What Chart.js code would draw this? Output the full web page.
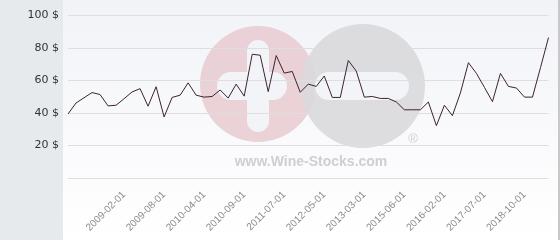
<!DOCTYPE html>
<html>
<head>
<meta charset="utf-8">
<script src="https://cdn.jsdelivr.net/npm/chart.js@4"></script>
<style>
  html, body { margin: 0; padding: 0; background: #fff; }
  #wrap { width: 560px; height: 240px; }
</style>
</head>
<body>
<div id="wrap"><canvas id="myChart" width="560" height="240"></canvas></div>
<script>
'use strict';
// prices, one per sale date
let prices = [39.4, 46.2, 49.4, 52.6, 51.4, 44.4, 44.8, 48.8, 53, 55,
  44.2, 56.2, 37.6, 49.6, 51, 58.6, 51, 49.8, 50.2, 54.2,
  49.2, 57.8, 50.4, 76.2, 75.6, 53.2, 75.4, 64.6, 65.6, 52.8,
  57.8, 56.4, 62.8, 49.6, 49.6, 72.4, 65.8, 49.8, 50.2, 49,
  49, 46.8, 42, 42, 42, 46.8, 32.2, 44.8, 38.4, 52.4,
  71, 64.4, 55.8, 47, 64.4, 56.4, 55.4, 49.8, 49.8, 68,
  86.5];
let tickLabels = ['2009-02-01', '2009-08-01', '2010-04-01', '2010-09-01', '2011-07-01',
  '2012-05-01', '2013-03-01', '2015-06-01', '2016-02-01', '2017-07-01', '2018-10-01'];
let firstTick = 7;
let tickStep = 5;
let yTicks = [0, 20, 40, 60, 80, 100];

// category for every point, the readable dates sit every 5th point
let categories = prices.map(function (p, i) {
  let k = (i - firstTick) / tickStep;
  return (k >= 0 && k === Math.floor(k) && k < tickLabels.length) ? tickLabels[k] : '';
});

let backdrop = {
  id: 'backdrop',
  beforeDraw: function (chart) {
    let ctx = chart.ctx;
    ctx.save();
    ctx.fillStyle = '#e7eaed';
    ctx.fillRect(0, 0, 63, chart.height);
    let g = ctx.createLinearGradient(0, 0, 0, chart.height);
    g.addColorStop(0, '#f2f3f7');
    g.addColorStop(1, '#ffffff');
    ctx.fillStyle = g;
    ctx.fillRect(63, 0, 495, chart.height);
    ctx.fillStyle = '#c8c8c8';
    ctx.fillRect(558, 0, 2, chart.height);

    // watermark
    ctx.globalAlpha = 0.9;
    ctx.fillStyle = '#e8cdd3';
    ctx.beginPath(); ctx.arc(258, 84, 58, 0, Math.PI * 2); ctx.fill();
    ctx.fillStyle = '#d9d9db';
    ctx.beginPath(); ctx.arc(363, 86, 62, 0, Math.PI * 2); ctx.fill();
    ctx.globalAlpha = 1;
    ctx.fillStyle = '#f3f4f8';
    ctx.beginPath();
    ctx.roundRect(315, 72, 94, 28, 14);
    ctx.roundRect(217, 72, 70, 28, 14);
    ctx.roundRect(247, 40, 22, 92, 11);
    ctx.fill();
    ctx.fillStyle = '#cfcfd1';
    ctx.font = 'bold 14px "Liberation Sans", Arial, sans-serif';
    ctx.textAlign = 'center';
    ctx.fillText('www.Wine-Stocks.com', 311, 166);
    ctx.font = '13px "Liberation Sans", Arial, sans-serif';
    ctx.fillText('\u00ae', 413, 143);
    ctx.restore();
  }
};

let ctx = document.getElementById('myChart').getContext('2d');
let myChart = new Chart(ctx, {
  type: 'line',
  data: {
    labels: categories,
    datasets: [{
      data: prices,
      borderColor: '#3d2232',
      borderWidth: 1,
      pointRadius: 0,
      tension: 0,
      fill: false
    }]
  },
  options: {
    responsive: false,
    animation: false,
    layout: { padding: { top: 13, right: 5, left: 0, bottom: 0 } },
    plugins: { legend: { display: false }, tooltip: { enabled: false } },
    scales: {
      x: {
        offset: false,
        grid: { display: false },
        border: { display: false },
        afterFit: function (scale) { scale.height = 62; },
        ticks: {
          autoSkip: false,
          maxRotation: 45,
          minRotation: 45,
          padding: 3,
          color: '#8a8a8a',
          font: { family: '"Liberation Sans", Arial, sans-serif', size: 10 }
        }
      },
      y: {
        min: yTicks[0],
        max: yTicks[yTicks.length - 1],
        afterFit: function (scale) { scale.width = 68; },
        afterBuildTicks: function (scale) {
          scale.ticks = yTicks.map(function (v) { return { value: v }; });
        },
        grid: { color: '#dedee2', drawTicks: false },
        border: { display: false },
        ticks: {
          padding: 9,
          color: '#333',
          font: { family: '"DejaVu Sans", sans-serif', size: 11 },
          callback: function (v) { return v === 0 ? '' : v + ' $'; }
        }
      }
    }
  },
  plugins: [backdrop]
});
</script>
</body>
</html>
